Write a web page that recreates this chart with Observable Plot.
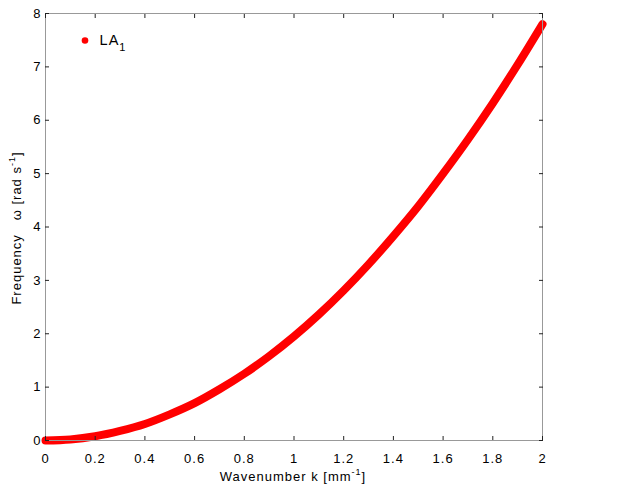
<!DOCTYPE html>
<html>
<head>
<meta charset="utf-8">
<script src="https://cdn.jsdelivr.net/npm/d3@7"></script>
<script src="https://cdn.jsdelivr.net/npm/@observablehq/plot@0.6"></script>
<style>
  html, body { margin: 0; padding: 0; background: #fff; }
  svg text { letter-spacing: 1px; }
</style>
</head>
<body>
<div id="chart"></div>
<script>
// Wavenumber k [mm^-1]
const k = [0, 0.1, 0.2, 0.3, 0.4, 0.5, 0.6, 0.7, 0.8, 0.9, 1.0,
           1.1, 1.2, 1.3, 1.4, 1.5, 1.6, 1.7, 1.8, 1.9, 2.0];
// Frequency omega [rad s^-1], series LA1
const omegaLA1 = [0, 0.02, 0.08, 0.18, 0.31, 0.49, 0.70, 0.96, 1.25, 1.58, 1.95,
                  2.36, 2.81, 3.30, 3.83, 4.39, 5.00, 5.64, 6.32, 7.04, 7.80];
const xTicks = [0, 0.2, 0.4, 0.6, 0.8, 1, 1.2, 1.4, 1.6, 1.8, 2];
const yTicks = [0, 1, 2, 3, 4, 5, 6, 7, 8];
const seriesName = "LA";
const seriesSub = "1";

const data = k.map((d, i) => ({k: d, w: omegaLA1[i]}));

const font = "'Liberation Sans', Arial, Helvetica, sans-serif";

const plot = Plot.plot({
  width: 623,
  height: 496,
  marginLeft: 45,
  marginRight: 81,
  marginTop: 13,
  marginBottom: 56,
  style: {fontFamily: font, fontSize: "13px", background: "#fff", color: "#000", overflow: "visible"},
  x: {domain: [0, 2]},
  y: {domain: [0, 8]},
  marks: [
    Plot.line(data, {x: "k", y: "w", stroke: "#ff0000", strokeWidth: 8, curve: "catmull-rom", strokeLinecap: "round", strokeLinejoin: "round"}),
    Plot.frame({stroke: "#999", strokeWidth: 1}),
    Plot.axisX(xTicks, {anchor: "bottom", tickSize: -4, tickPadding: 17, tickFormat: d => String(d), stroke: "#222", label: null, fontSize: 13}),
    Plot.axisX(xTicks, {anchor: "top", tickSize: -4, tickFormat: () => "", stroke: "#222", label: null}),
    Plot.axisY(yTicks, {anchor: "left", tickSize: -4, tickPadding: 8, tickFormat: d => String(d), stroke: "#222", label: null, fontSize: 13}),
    Plot.axisY(yTicks, {anchor: "right", tickSize: -4, tickFormat: () => "", stroke: "#222", label: null})
  ]
});

const svg = d3.select(plot);

// x-axis label
const xl = svg.append("text")
  .attr("x", 293).attr("y", 481)
  .attr("text-anchor", "middle")
  .style("font-family", font).style("font-size", "13px").attr("fill", "#000");
xl.append("tspan").text("Wavenumber k [mm");
xl.append("tspan").attr("dy", -6).style("font-size", "9px").text("-1");
xl.append("tspan").attr("dy", 6).text("]");

// y-axis label
const yl = svg.append("text")
  .attr("transform", "translate(21,228) rotate(-90)")
  .attr("text-anchor", "middle")
  .style("white-space", "pre")
  .style("font-family", font).style("font-size", "13px").attr("fill", "#000");
yl.append("tspan").text("Frequency   \u03c9 [rad s");
yl.append("tspan").attr("dy", -6).style("font-size", "9px").text("-1");
yl.append("tspan").attr("dy", 6).text("]");

// legend
svg.append("circle").attr("cx", 85).attr("cy", 40.5).attr("r", 3.3).attr("fill", "#ff0000");
const lg = svg.append("text")
  .attr("x", 113).attr("y", 45)
  .style("font-family", font).style("font-size", "14.5px").attr("fill", "#000");
lg.append("tspan").text(seriesName);
lg.append("tspan").attr("dy", 6).style("font-size", "11px").text(seriesSub);

document.getElementById("chart").appendChild(plot);
</script>
</body>
</html>
